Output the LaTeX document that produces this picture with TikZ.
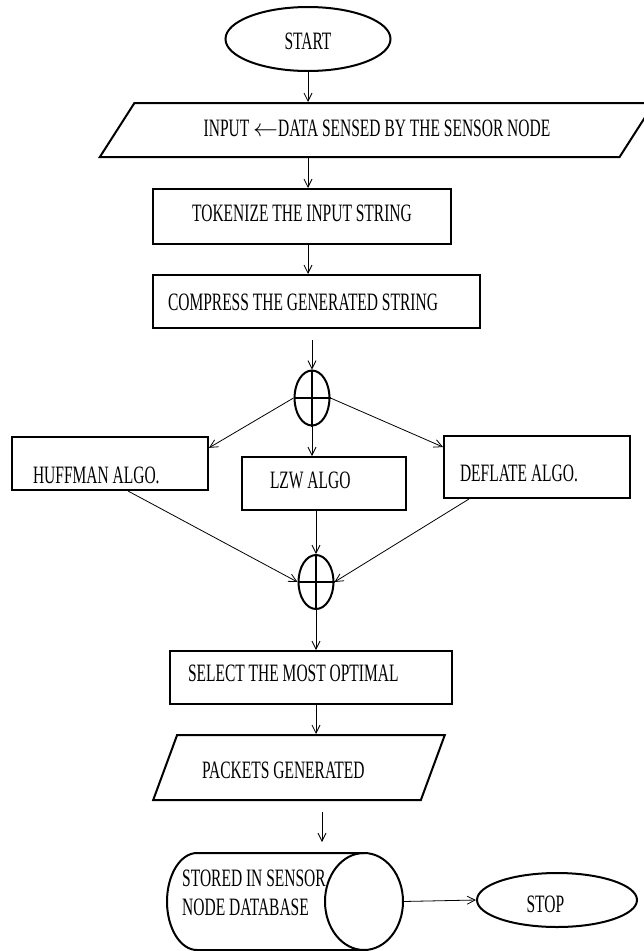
\documentclass[tikz,border=0pt]{standalone}
\usepackage{fontspec}
\setmainfont{Liberation Serif}[FakeStretch=0.62]
\usepackage{tikz}
\usetikzlibrary{arrows.meta}
\usetikzlibrary{shapes.geometric}

\begin{document}
\begin{tikzpicture}[x=1pt,y=-1pt,>/.tip={Straight Barb[length=8pt,width=8pt]},
	font=\fontsize{25}{29}\selectfont,
	box/.style={draw,line width=2pt,rectangle,inner sep=0pt,text depth=0pt},
	term/.style={draw,line width=2pt,ellipse,inner sep=0pt,text depth=0pt},
	io/.style={draw,line width=2pt,trapezium,trapezium stretches=true,inner sep=0pt,text depth=0pt},
	sumnode/.style={draw,line width=2pt,ellipse,minimum width=35pt,minimum height=55pt,inner sep=0pt},
	flow/.style={->,line width=0.8pt}]
	\useasboundingbox (0,0) rectangle (644,951);
	\clip (0,0) rectangle (644,951);
	\node (start) [term,minimum width=165pt,minimum height=64pt,text height=21pt] at (308,39) {START};
	\node (input) [io,minimum width=556pt,minimum height=54pt,trapezium left angle=25.9,trapezium right angle=154.1,text height=12pt] at (377,130) {INPUT $\leftarrow$DATA SENSED BY THE SENSOR NODE};
	\node (token) [box,minimum width=298pt,minimum height=55pt,text height=9.6pt] at (302,216.5) {TOKENIZE THE INPUT STRING};
	\node (compress) [box,minimum height=53pt,inner xsep=15pt,text width=297pt,align=flush left,text height=17pt] at (316.5,301.5) {COMPRESS THE GENERATED STRING};
	\node (join1) [sumnode] at (312,398) {};
	\node (huffman) [box,minimum height=53pt,inner xsep=21pt,text width=154pt,align=flush left,text height=39.6pt] at (110,463.5) {HUFFMAN ALGO.};
	\node (lzw) [box,minimum height=53pt,inner xsep=28pt,text width=108pt,align=flush left,text height=9pt] at (324,483.5) {LZW ALGO};
	\node (deflate) [box,minimum height=62pt,inner xsep=16pt,text width=154pt,align=flush left,text height=28pt] at (537,467) {DEFLATE ALGO.};
	\node (join2) [sumnode,minimum height=54pt] at (316,582) {};
	\node (select) [box,minimum height=53pt,inner xsep=18pt,text width=246pt,align=flush left,text height=7pt] at (311,677.5) {SELECT THE MOST OPTIMAL};
	\node (packets) [io,minimum width=292pt,minimum height=65pt,trapezium left angle=47.8,trapezium right angle=132.2,text width=194pt,align=flush left,text height=21pt] at (299,767.5) {PACKETS GENERATED};
	\node (db) [align=flush left,anchor=west,inner sep=0pt] at (182,892.5) {STORED IN SENSOR\\NODE DATABASE};
	\node (stop) [term,minimum width=160pt,minimum height=54pt,text width=61pt,align=flush left,text height=24pt,text depth=-16pt] at (557,900) {STOP};
	% cylinder round the database text
	\draw[line width=2pt] (364,853) -- (197,853) arc[start angle=270,end angle=90,x radius=30,y radius=48.5] -- (364,950);
	\draw[line width=2pt] (364,901.5) ellipse[x radius=39,y radius=48.5];
	\coordinate (dbend) at (403,901.5);
	% crosses
	\draw[line width=2pt] (join1.north) -- (join1.south) (join1.west) -- (join1.east);
	\draw[line width=2pt] (join2.north) -- (join2.south) (join2.west) -- (join2.east);
	% flow
	\draw[flow] (start) -- (start |- input.north);
	\draw[flow] (start |- input.south) -- (start |- token.north);
	\draw[flow] (start |- token.south) -- (start |- compress.north);
	\coordinate (c1) at (312,340);
	\draw[flow] (c1) -- (join1.north);
	\draw[flow] (join1.west) -- (huffman.9);
	\draw[flow] (join1.south) -- (join1.south |- lzw.north);
	\draw[flow] (join1.east) -- (deflate.168);
	\draw[flow] ([xshift=18pt]huffman.south) -- (join2.west);
	\draw[flow] (join2.north |- lzw.south) -- (join2.north);
	\draw[flow] ([xshift=-68pt]deflate.south) -- (join2.east);
	\draw[flow] (join2.south) -- (join2.south |- select.north);
	\draw[flow] (join2.south |- select.south) -- (join2.south |- packets.north);
	\coordinate (p1) at (322,812);
	\coordinate (p2) at (322,842);
	\draw[flow] (p1) -- (p2);
	\draw[flow] (dbend) -- (stop.west);
\end{tikzpicture}
\end{document}
